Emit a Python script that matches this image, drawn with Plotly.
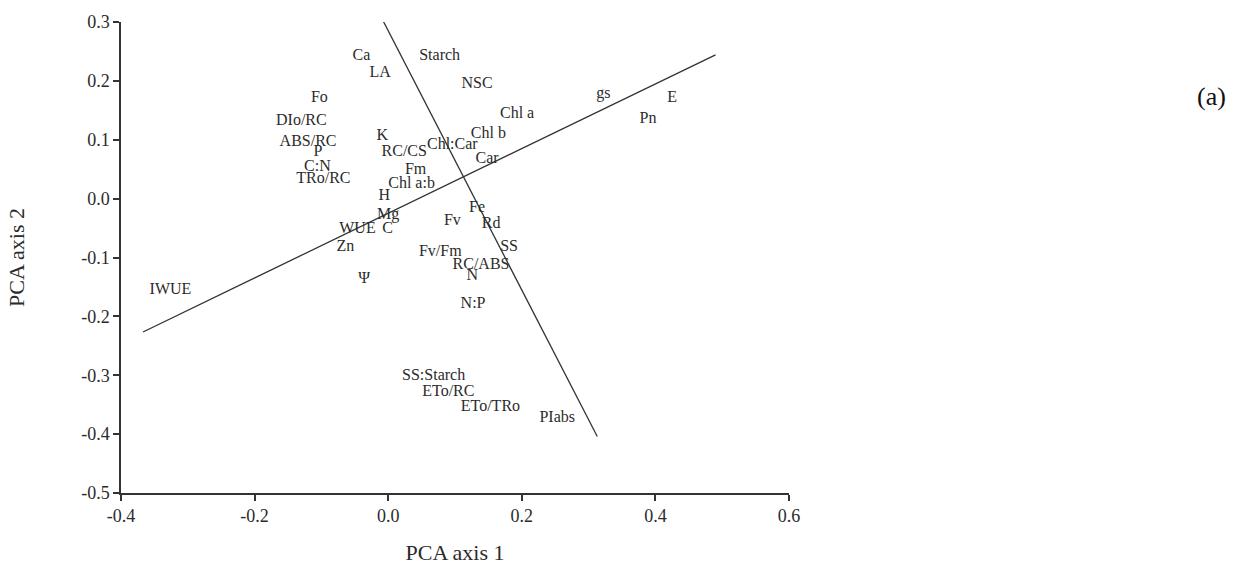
import plotly.graph_objects as go

# Variable labels (loadings) on PCA axes
labels = ["Ca", "LA", "Starch", "NSC", "Fo", "DIo/RC", "Chl a", "gs", "E", "Pn",
          "ABS/RC", "K", "Chl b", "Chl:Car", "RC/CS", "P", "C:N", "Car", "Fm", "TRo/RC",
          "Chl a:b", "H", "Fe", "Mg", "Fv", "Rd", "WUE", "C", "SS", "Zn",
          "Fv/Fm", "RC/ABS", "N", "Ψ", "IWUE", "N:P", "SS:Starch", "ETo/RC", "ETo/TRo", "PIabs"]
pc1 = [-0.040, -0.012, 0.077, 0.133, -0.103, -0.130, 0.193, 0.322, 0.425, 0.389,
       -0.120, -0.009, 0.150, 0.096, 0.024, -0.105, -0.106, 0.148, 0.041, -0.097,
       0.035, -0.006, 0.133, 0.000, 0.096, 0.154, -0.046, -0.001, 0.181, -0.064,
       0.078, 0.139, 0.126, -0.036, -0.326, 0.127, 0.068, 0.090, 0.153, 0.253]
pc2 = [0.243, 0.213, 0.243, 0.194, 0.171, 0.132, 0.144, 0.177, 0.171, 0.136,
       0.097, 0.107, 0.109, 0.091, 0.080, 0.079, 0.054, 0.067, 0.049, 0.034,
       0.025, 0.004, -0.016, -0.028, -0.038, -0.043, -0.052, -0.052, -0.082, -0.082,
       -0.090, -0.113, -0.132, -0.137, -0.155, -0.179, -0.301, -0.329, -0.354, -0.372]

# Two fitted axes (gradient lines)
line1_x = [-0.367, 0.490]
line1_y = [-0.2265, 0.2443]
line2_x = [-0.009, 0.313]
line2_y = [0.305, -0.404]

x_ticks = [-0.4, -0.2, 0.0, 0.2, 0.4, 0.6]
x_tick_text = ["-0.4", "-0.2", "0.0", "0.2", "0.4", "0.6"]
y_ticks = [-0.5, -0.4, -0.3, -0.2, -0.1, 0.0, 0.1, 0.2, 0.3]
y_tick_text = ["-0.5", "-0.4", "-0.3", "-0.2", "-0.1", "0.0", "0.1", "0.2", "0.3"]

SERIF = "Liberation Serif, Times New Roman, serif"
INK = "#2b2b2b"

fig = go.Figure()
fig.add_trace(go.Scatter(x=line1_x, y=line1_y, mode="lines",
                         line=dict(color="#333333", width=1.3), hoverinfo="skip"))
fig.add_trace(go.Scatter(x=line2_x, y=line2_y, mode="lines",
                         line=dict(color="#333333", width=1.3), hoverinfo="skip"))
fig.add_trace(go.Scatter(x=pc1, y=pc2, mode="text", text=labels,
                         textposition="middle center", cliponaxis=False,
                         textfont=dict(family=SERIF, size=16, color=INK)))

axis_common = dict(showgrid=False, zeroline=False, showline=True, linecolor="#333333",
                   linewidth=1.5, ticks="outside", ticklen=6, tickwidth=1.5,
                   tickcolor="#333333", tickfont=dict(family=SERIF, size=18, color=INK))

fig.update_layout(
    width=1249, height=573,
    margin=dict(l=121, r=460, t=16, b=79),
    paper_bgcolor="white", plot_bgcolor="white",
    showlegend=False,
    xaxis=dict(range=[-0.4, 0.6], tickvals=x_ticks, ticktext=x_tick_text,
               title=dict(text="PCA axis 1", font=dict(family=SERIF, size=22, color=INK), standoff=19),
               **axis_common),
    yaxis=dict(range=[-0.5, 0.3], tickvals=y_ticks, ticktext=y_tick_text,
               title=dict(text="PCA axis 2", font=dict(family=SERIF, size=22, color=INK), standoff=50),
               **axis_common),
    annotations=[dict(text="(a)", xref="paper", yref="paper", x=1.633, y=0.842,
                      xanchor="center", yanchor="middle", showarrow=False,
                      font=dict(family=SERIF, size=26, color="#111111"))],
)

fig.write_html("out.html")
